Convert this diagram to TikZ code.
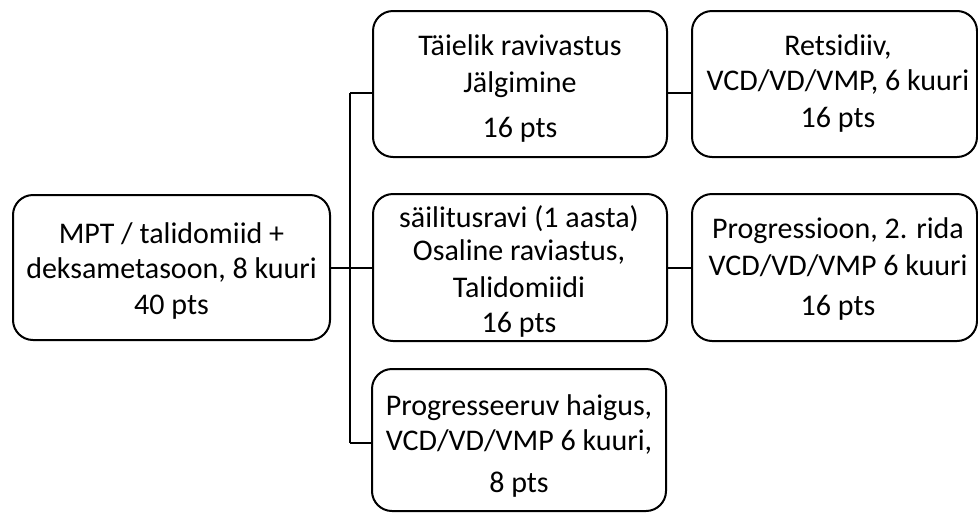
\documentclass[tikz,border=0pt]{standalone}
\usepackage{fontspec}
\setmainfont{Carlito}
\newcommand{\firstline}{\rule{0pt}{25pt}}
\begin{document}
\begin{tikzpicture}[x=1pt,y=-1pt,
  box/.style={draw=black, line width=2pt, rounded corners=20pt, inner sep=0pt},
  txt/.style={anchor=north, align=center, inner sep=0pt, font=\fontsize{30}{35}\selectfont},
  txtwide/.style={txt, font=\fontsize{30}{37}\selectfont},
  link/.style={draw=black, line width=2pt}]
\useasboundingbox (0,0) rectangle (978,512);
\clip (0,0) rectangle (978,512);
% boxes
\node[box, minimum width=317pt, minimum height=145pt] (main) at (171.5,267.5) {};
\node[box, minimum width=294pt, minimum height=146pt] (topmid) at (520,84) {};
\node[box, minimum width=294pt, minimum height=147pt] (midmid) at (520,267.5) {};
\node[box, minimum width=294pt, minimum height=142pt] (botmid) at (519,440) {};
\node[box, minimum width=285pt, minimum height=146pt] (topright) at (834.5,84) {};
\node[box, minimum width=285pt, minimum height=147pt] (midright) at (834.5,267.5) {};
% texts (first baseline = y + 25)
\node[txt] (main-t) at (171.5,218)
  {\firstline MPT / talidomiid +\\deksametasoon, 8 kuuri\\[1pt]40 pts};
\node[txtwide] (topmid-t) at (520,30)
  {\firstline Täielik ravivastus\\Jälgimine\\[8pt]16 pts};
\node[txt] (midmid-t) at (519,202)
  {\firstline säilitusravi (1 aasta)\\[-2pt]Osaline raviastus,\\[2pt]Talidomiidi\\16 pts};
\node[txt] (botmid-t) at (519,390)
  {\firstline Progresseeruv haigus,\\VCD/VD/VMP 6 kuuri,\\[7pt]8 pts};
\node[txt] (topright-t) at (838,30)
  {\firstline Retsidiiv,\\VCD/VD/VMP, 6 kuuri\\[2pt]16 pts};
\node[txtwide] (midright-t) at (838,213)
  {\firstline Progressioon, 2. rida\\VCD/VD/VMP 6 kuuri\\[3pt]16 pts};
% junction points
\coordinate (jt) at (350,93);
\coordinate (jm) at (350,267.5);
\coordinate (jb) at (350,443);
% connectors
\draw[link] (main.east) -- (jm);
\draw[link] (jt) -- (jb);
\draw[link] (jt) -- (jt -| topmid.west);
\draw[link] (jm) -- (midmid.west);
\draw[link] (jb) -- (jb -| botmid.west);
\draw[link] (topmid.east |- jt) -- (jt -| topright.west);
\draw[link] (midmid.east) -- (midright.west);
\end{tikzpicture}
\end{document}
